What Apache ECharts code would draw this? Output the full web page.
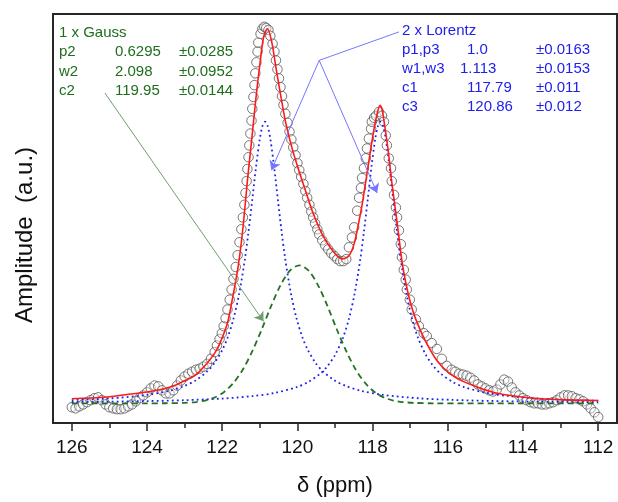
<!DOCTYPE html>
<html>
<head>
<meta charset="utf-8">
<script src="https://cdn.jsdelivr.net/npm/echarts@6/dist/echarts.min.js"></script>
<style>
  html, body { margin: 0; padding: 0; background: #fff; }
  #chart { width: 618px; height: 502px; }
</style>
</head>
<body>
<div id="chart"></div>
<script>
// tick labels of the delta axis
var xTicks = [126, 124, 122, 120, 118, 116, 114, 112];
var xMinorTicks = [125, 123, 121, 119, 117, 115, 113];

// measured spectrum (open circles)
var dataPpm = [
  126.0, 125.9, 125.8, 125.7, 125.6, 125.5, 125.4, 125.3, 125.2, 125.1,
  125.0, 124.9, 124.8, 124.7, 124.6, 124.5, 124.4, 124.3, 124.2, 124.1,
  124.0, 123.9, 123.8, 123.7, 123.6, 123.5, 123.4, 123.3, 123.2, 123.1,
  123.0, 122.9, 122.8, 122.7, 122.6, 122.5, 122.4, 122.3, 122.2, 122.14,
  122.07, 122.01, 121.96, 121.91, 121.86, 121.80, 121.75, 121.70, 121.64, 121.59,
  121.54, 121.49, 121.45, 121.41, 121.38, 121.35, 121.33, 121.30, 121.28, 121.25,
  121.22, 121.20, 121.17, 121.14, 121.12, 121.09, 121.06, 121.04, 120.98, 120.93,
  120.88, 120.83, 120.77, 120.72, 120.66, 120.61, 120.57, 120.53, 120.49, 120.45,
  120.41, 120.37, 120.32, 120.26, 120.21, 120.16, 120.11, 120.05, 120.00, 119.95,
  119.90, 119.84, 119.79, 119.74, 119.68, 119.63, 119.58, 119.53, 119.47, 119.42,
  119.34, 119.26, 119.18, 119.10, 119.02, 118.94, 118.86, 118.78, 118.70, 118.63,
  118.55, 118.49, 118.41, 118.36, 118.31, 118.28, 118.23, 118.18, 118.15, 118.10,
  118.04, 118.02, 117.96, 117.91, 117.83, 117.75, 117.70, 117.65, 117.62, 117.57,
  117.51, 117.49, 117.43, 117.38, 117.35, 117.30, 117.25, 117.22, 117.17, 117.12,
  117.09, 117.01, 116.96, 116.85, 116.77, 116.64, 116.56, 116.43, 116.29, 116.16,
  116.03, 115.9, 115.8, 115.7, 115.6, 115.5, 115.4, 115.3, 115.2, 115.1,
  115.0, 114.9, 114.8, 114.7, 114.6, 114.5, 114.4, 114.3, 114.2, 114.1,
  114.0, 113.9, 113.8, 113.7, 113.6, 113.5, 113.4, 113.3, 113.2, 113.1,
  113.0, 112.9, 112.8, 112.7, 112.6, 112.5, 112.4, 112.3, 112.2, 112.1,
  112.0
];
var dataAmp = [
  -0.014, -0.018, -0.011, -0.004, 0.004, 0.011, 0.018, 0.021, 0.011, -0.004,
  -0.014, -0.018, -0.021, -0.021, -0.018, -0.011, -0.004, 0.007, 0.018, 0.028,
  0.039, 0.053, 0.063, 0.060, 0.046, 0.035, 0.035, 0.046, 0.063, 0.081,
  0.095, 0.105, 0.112, 0.119, 0.123, 0.130, 0.140, 0.158, 0.182, 0.205,
  0.228, 0.249, 0.274, 0.302, 0.333, 0.368, 0.404, 0.442, 0.484, 0.526,
  0.572, 0.618, 0.660, 0.705, 0.747, 0.789, 0.832, 0.874, 0.916, 0.958,
  1.004, 1.046, 1.088, 1.130, 1.172, 1.211, 1.249, 1.281, 1.312, 1.330,
  1.337, 1.333, 1.326, 1.305, 1.277, 1.249, 1.218, 1.186, 1.154, 1.123,
  1.091, 1.060, 1.028, 0.996, 0.965, 0.937, 0.909, 0.881, 0.853, 0.828,
  0.804, 0.779, 0.754, 0.730, 0.705, 0.681, 0.660, 0.639, 0.618, 0.600,
  0.579, 0.561, 0.547, 0.533, 0.523, 0.512, 0.505, 0.505, 0.512, 0.554,
  0.589, 0.625, 0.684, 0.730, 0.765, 0.800, 0.835, 0.870, 0.905, 0.940,
  0.975, 1.000, 1.014, 1.021, 1.035, 1.021, 1.000, 0.951, 0.916, 0.870,
  0.835, 0.789, 0.740, 0.695, 0.660, 0.614, 0.565, 0.519, 0.474, 0.439,
  0.404, 0.368, 0.333, 0.298, 0.274, 0.249, 0.239, 0.214, 0.193, 0.158,
  0.133, 0.119, 0.112, 0.105, 0.102, 0.098, 0.091, 0.081, 0.067, 0.060,
  0.053, 0.046, 0.042, 0.049, 0.067, 0.084, 0.077, 0.056, 0.039, 0.028,
  0.018, 0.011, 0.004, 0.000, 0.000, -0.004, -0.004, 0.000, 0.004, 0.011,
  0.021, 0.028, 0.028, 0.025, 0.018, 0.014, 0.007, -0.004, -0.018, -0.032,
  -0.049
];

// cumulative fit (red)
var fitPpm = [
  126.0, 125.5, 125.0, 124.5, 124.0, 123.6, 123.3, 122.95, 122.7, 122.41,
  122.2, 122.07, 121.86, 121.73, 121.59, 121.49, 121.41, 121.33, 121.22, 121.09,
  121.01, 120.90, 120.80, 120.69, 120.56, 120.40, 120.30, 120.13, 119.95, 119.76,
  119.61, 119.34, 119.08, 118.81, 118.63, 118.49, 118.36, 118.28, 118.15, 118.02,
  117.91, 117.80, 117.75, 117.65, 117.57, 117.49, 117.38, 117.30, 117.22, 117.12,
  116.99, 116.85, 116.59, 116.25, 115.80, 115.26, 114.65, 113.77, 112.87, 112.0
];
var fitAmp = [
  0.016, 0.019, 0.023, 0.032, 0.040, 0.050, 0.061, 0.083, 0.101, 0.141,
  0.178, 0.210, 0.285, 0.370, 0.474, 0.572, 0.675, 0.790, 0.930, 1.100,
  1.190, 1.300, 1.330, 1.288, 1.184, 1.060, 0.990, 0.900, 0.822, 0.745,
  0.685, 0.600, 0.545, 0.513, 0.524, 0.567, 0.648, 0.705, 0.815, 0.928,
  1.010, 1.058, 1.045, 0.960, 0.880, 0.785, 0.674, 0.590, 0.505, 0.430,
  0.355, 0.298, 0.220, 0.145, 0.092, 0.060, 0.035, 0.019, 0.012, 0.010
];

// Lorentz component at c3 = 120.86 (blue dotted)
var lzLeftPpm = [
  126.0, 125.0, 124.0, 123.4, 123.0, 122.7, 122.4, 122.2, 122.0, 121.86,
  121.7, 121.55, 121.4, 121.3, 121.2, 121.1, 121.0, 120.93, 120.86, 120.79,
  120.72, 120.62, 120.52, 120.42, 120.32, 120.17, 120.02, 119.86, 119.72, 119.52,
  119.32, 119.02, 118.72, 118.32, 117.72, 116.72, 115.86, 114.86, 113.86, 112.86,
  112.0
];
var lzLeftAmp = [
  0.0113, 0.0173, 0.0298, 0.0448, 0.0620, 0.0820, 0.1131, 0.1442, 0.1888, 0.232,
  0.3001, 0.3885, 0.5092, 0.6098, 0.7235, 0.8400, 0.9391, 0.9841, 1.0, 0.9841,
  0.9391, 0.8400, 0.7235, 0.6098, 0.5092, 0.3885, 0.3001, 0.232, 0.1888, 0.1442,
  0.1131, 0.0820, 0.0620, 0.0448, 0.0298, 0.0173, 0.0120, 0.0083, 0.0061, 0.0047,
  0.0038
];

// Lorentz component at c1 = 117.79 (blue dotted)
var lzRightPpm = [
  126.0, 125.0, 124.0, 123.0, 122.0, 121.2, 120.6, 120.0, 119.7, 119.4,
  119.2, 119.0, 118.79, 118.63, 118.48, 118.33, 118.23, 118.13, 118.03, 117.93,
  117.86, 117.79, 117.72, 117.65, 117.55, 117.45, 117.35, 117.25, 117.10, 116.95,
  116.79, 116.58, 116.38, 116.18, 115.88, 115.58, 114.98, 114.38, 113.58, 112.58,
  112.0
];
var lzRightAmp = [
  0.0045, 0.0058, 0.0078, 0.0110, 0.0168, 0.0254, 0.0369, 0.0583, 0.0766, 0.1045,
  0.1321, 0.1712, 0.232, 0.3001, 0.3885, 0.5092, 0.6098, 0.7235, 0.8400, 0.9391,
  0.9841, 1.0, 0.9841, 0.9391, 0.8400, 0.7235, 0.6098, 0.5092, 0.3885, 0.3001,
  0.232, 0.1712, 0.1321, 0.1045, 0.0766, 0.0583, 0.0369, 0.0254, 0.0168, 0.0110,
  0.0089
];

// Gauss component at c2 = 119.95 (green dashed)
var gaussPpm = [
  126.0, 124.0, 123.5, 123.0, 122.7, 122.45, 122.2, 121.95, 121.7, 121.45,
  121.2, 120.95, 120.7, 120.45, 120.2, 119.95, 119.7, 119.45, 119.2, 118.95,
  118.7, 118.45, 118.2, 117.95, 117.7, 117.45, 117.2, 116.9, 116.4, 114.0,
  112.0
];
var gaussAmp = [
  0, 0, 0.0002, 0.0015, 0.0043, 0.0099, 0.0207, 0.0402, 0.0723, 0.120,
  0.185, 0.262, 0.345, 0.419, 0.471, 0.49, 0.471, 0.419, 0.345, 0.262,
  0.185, 0.120, 0.0723, 0.0402, 0.0207, 0.0099, 0.0043, 0.0015, 0, 0,
  0
];

// fit parameter tables
var gaussTitle = '1 x Gauss';
var gaussRows = [
  ['p2', '0.6295', '±0.0285'],
  ['w2', '2.098', '±0.0952'],
  ['c2', '119.95', '±0.0144']
];
var lorentzTitle = '2 x Lorentz';
var lorentzRows = [
  ['p1,p3', '1.0', '±0.0163'],
  ['w1,w3', '1.113', '±0.0153'],
  ['c1', '117.79', '±0.011'],
  ['c3', '120.86', '±0.012']
];

// annotation arrows (data coordinates)
var gaussArrow = [[125.12, 1.102], [120.90, 0.291]];
var lorentzVertex = [119.42, 1.218];
var lorentzStart = [117.30, 1.319];
var lorentzTips = [[120.69, 0.828], [117.88, 0.747]];

var GREEN = '#1e6e1e';
var BLUE = '#2020ee';
var FONT = '"Liberation Sans", Arial, sans-serif';

function zip(a, b) {
  return a.map(function (v, i) { return [v, b[i]]; });
}

function tableText(title, rows, x0, colX, y0, step, color) {
  var els = [{
    type: 'text', x: x0, y: y0,
    style: { text: title, fill: color, font: '15px ' + FONT, verticalAlign: 'middle' }
  }];
  rows.forEach(function (r, i) {
    var y = y0 + step * (i + 1);
    r.forEach(function (t, j) {
      var cx = typeof colX[j] === 'number' ? colX[j] : colX[j][i];
      els.push({
        type: 'text', x: cx, y: y,
        style: { text: t, fill: color, font: '15px ' + FONT, verticalAlign: 'middle' }
      });
    });
  });
  return els;
}

var chart = echarts.init(document.getElementById('chart'), null, { renderer: 'canvas' });

var graphics = []
  .concat(tableText(gaussTitle, gaussRows, 59, [59, 115, 179], 33, 19.3, GREEN))
  .concat(tableText(lorentzTitle, lorentzRows, 402, [402, [467, 460, 467, 467], 536], 31, 19, BLUE));
graphics.push({
  type: 'text', x: 25, y: 235, rotation: Math.PI / 2,
  style: { text: 'Amplitude  (a.u.)', fill: '#111', font: '24px ' + FONT, align: 'center', verticalAlign: 'middle' }
});

var option = {
  animation: false,
  backgroundColor: '#fff',
  grid: {
    left: 53, right: 1, top: 14, bottom: 74,
    show: true, borderColor: '#262626', borderWidth: 2, backgroundColor: 'transparent'
  },
  xAxis: [{
    type: 'value', min: 111.5, max: 126.5, inverse: true, position: 'bottom',
    axisLine: { show: true, onZero: false, lineStyle: { color: '#262626', width: 2 } },
    axisTick: { show: true, inside: false, length: 8, customValues: xTicks, lineStyle: { color: '#262626', width: 1.5 } },
    axisLabel: { customValues: xTicks, fontSize: 19, color: '#111', fontFamily: FONT, margin: 15 },
    splitLine: { show: false },
    name: 'δ (ppm)', nameLocation: 'middle', nameGap: 52,
    nameTextStyle: { fontSize: 22, color: '#111', fontFamily: FONT }
  }, {
    type: 'value', min: 111.5, max: 126.5, inverse: true, position: 'bottom',
    axisLine: { show: false, onZero: false },
    axisTick: { show: true, inside: false, length: 5, customValues: xMinorTicks, lineStyle: { color: '#262626', width: 1.5 } },
    axisLabel: { show: false },
    splitLine: { show: false }
  }],
  yAxis: {
    type: 'value', min: -0.07, max: 1.3826,
    axisLine: { show: true, onZero: false, lineStyle: { color: '#262626', width: 2 } },
    axisTick: { show: false },
    axisLabel: { show: false },
    splitLine: { show: false }
  },
  graphic: graphics,
  series: [{
    name: 'data', type: 'scatter', data: zip(dataPpm, dataAmp),
    symbol: 'circle', symbolSize: 9.5,
    itemStyle: { color: 'rgba(255,255,255,0.45)', borderColor: '#555', borderWidth: 1 },
    silent: true
  }, {
    name: 'lorentz c3', type: 'line', data: zip(lzLeftPpm, lzLeftAmp),
    smooth: 0.3, showSymbol: false,
    lineStyle: { color: BLUE, width: 1.8, type: [1.8, 3.2] },
    markLine: {
      silent: true, symbol: ['none', 'arrow'], symbolSize: 9,
      label: { show: false },
      lineStyle: { color: '#7676ff', width: 1, type: 'solid' },
      itemStyle: { color: '#1a1aff' },
      data: [
        [{ coord: lorentzStart, symbol: 'none' }, { coord: lorentzVertex, symbol: 'none' }],
        [{ coord: lorentzVertex }, { coord: lorentzTips[0] }],
        [{ coord: lorentzVertex }, { coord: lorentzTips[1] }]
      ]
    }
  }, {
    name: 'lorentz c1', type: 'line', data: zip(lzRightPpm, lzRightAmp),
    smooth: 0.3, showSymbol: false,
    lineStyle: { color: BLUE, width: 1.8, type: [1.8, 3.2] }
  }, {
    name: 'gauss c2', type: 'line', data: zip(gaussPpm, gaussAmp),
    smooth: 0.3, showSymbol: false,
    lineStyle: { color: '#237323', width: 1.8, type: [6, 4] },
    markLine: {
      silent: true, symbol: ['none', 'arrow'], symbolSize: 9,
      label: { show: false },
      lineStyle: { color: '#6f9f6f', width: 1, type: 'solid' },
      itemStyle: { color: '#1e6e1e' },
      data: [
        [{ coord: gaussArrow[0] }, { coord: gaussArrow[1] }]
      ]
    }
  }, {
    name: 'fit', type: 'line', data: zip(fitPpm, fitAmp),
    smooth: 0.3, showSymbol: false,
    lineStyle: { color: '#ff1a1a', width: 1.6 }
  }]
};

chart.setOption(option);
window.addEventListener('resize', function () { chart.resize(); });
</script>
</body>
</html>
